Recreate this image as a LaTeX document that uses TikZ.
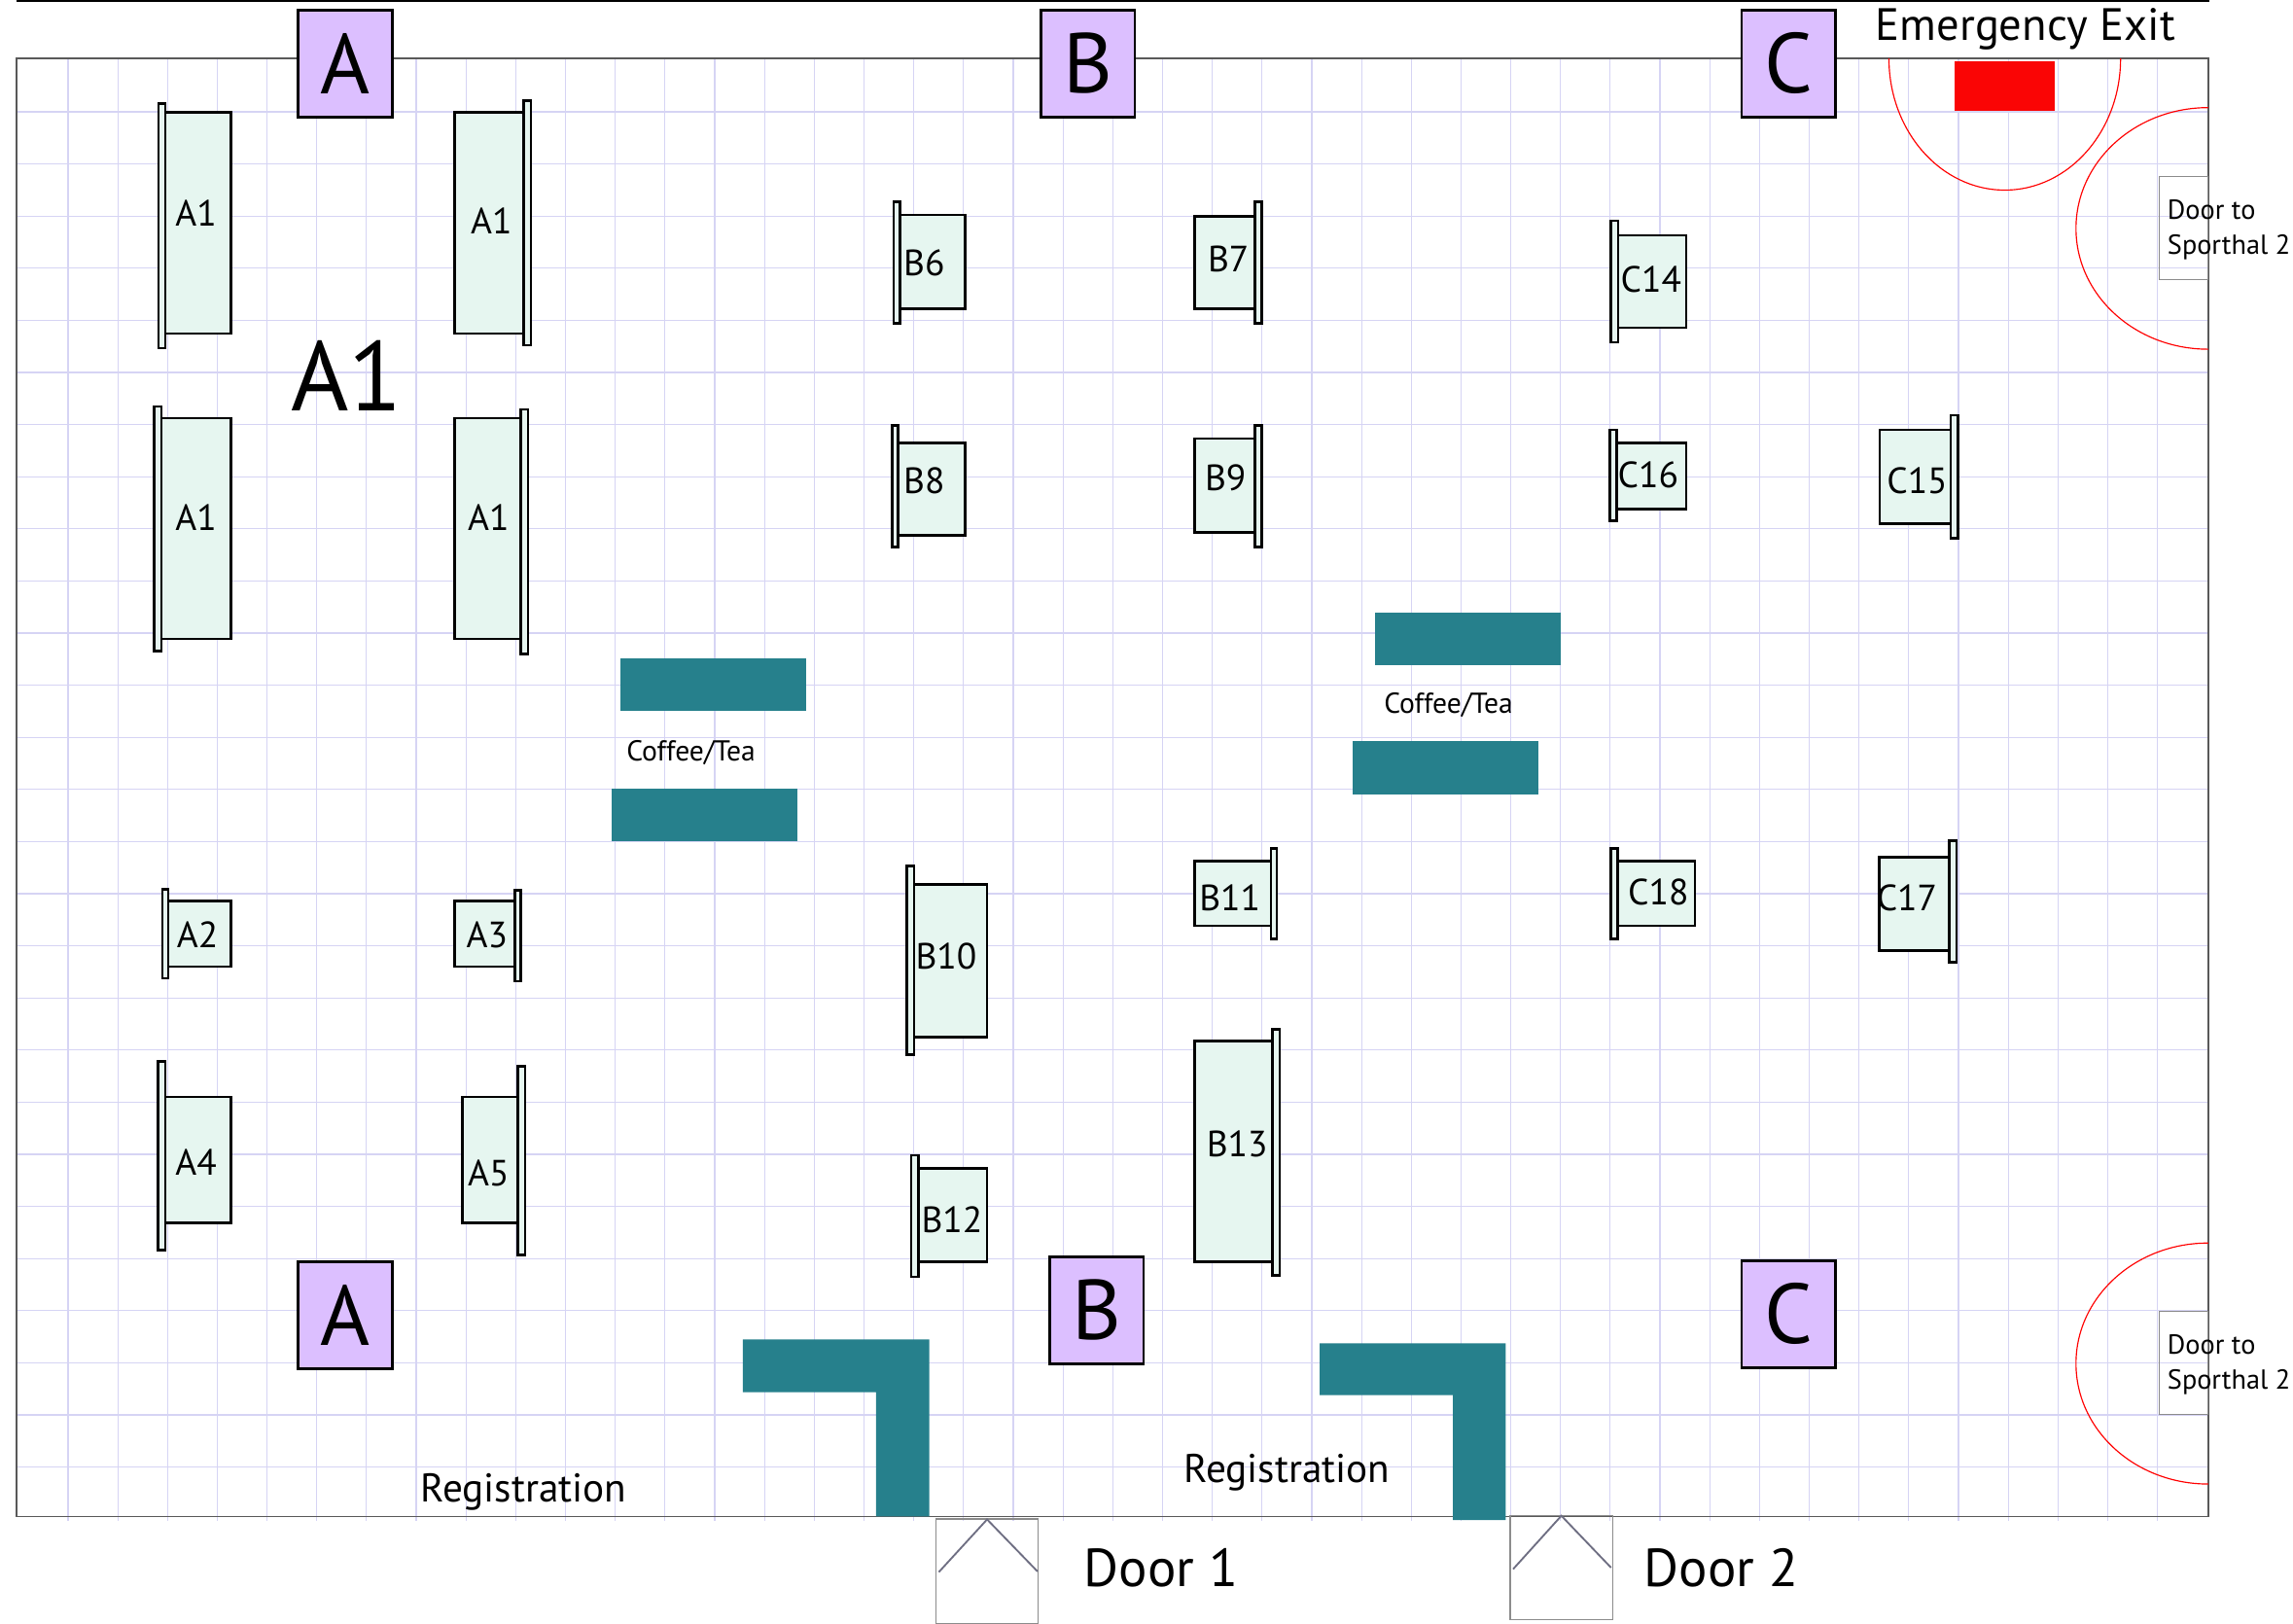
\documentclass[tikz,border=0pt]{standalone}
\usepackage{fontspec}
\setmainfont{PT Sans}
\usepackage{xcolor}
\usetikzlibrary{positioning}
\definecolor{gridline}{HTML}{D6D4F4}
\definecolor{boothgreen}{HTML}{E6F6F0}
\definecolor{signpurple}{HTML}{DCBFFF}
\definecolor{barteal}{HTML}{26808C}
\definecolor{doorgrey}{HTML}{6E6E82}
\definecolor{exitred}{HTML}{FA0505}
\tikzset{
  booth/.style={draw=black, fill=boothgreen, line width=0.5pt},
  signbox/.style={draw=black, fill=signpurple, line width=0.55pt, minimum width=0.64cm, minimum height=0.73cm, inner sep=0pt, font=\fontsize{16.5}{18}\selectfont},
  boothname/.style={inner sep=0pt, font=\fontsize{7.1}{9}\selectfont},
  bar/.style={fill=barteal},
  doorbox/.style={draw=black!45, line width=0.25pt},
  doorline/.style={draw=doorgrey, line width=0.35pt},
  zone/.style={draw=red, line width=0.22pt},
  smalltext/.style={inner sep=0pt, font=\fontsize{5.6}{6.8}\selectfont},
  doortext/.style={inner sep=0pt, font=\fontsize{5.35}{6.8}\selectfont},
}
\begin{document}
\begin{tikzpicture}[x=0.01cm, y=-0.01cm]
\useasboundingbox (0,0) rectangle (1568,1110);
% floor grid
\foreach \gx in {0,...,42} \draw[gridline, line width=0.22pt] ({46.5+34.02*\gx},40) -- ({46.5+34.02*\gx},1040);
\foreach \gy in {0,...,26} \draw[gridline, line width=0.22pt] (11.3,{76.5+35.64*\gy}) -- (1510,{76.5+35.64*\gy});
% walls
\draw[black, line width=0.3pt] (11.3,0.7) -- (1511,0.7);
\draw[black!65, line width=0.3pt] (11.3,40) rectangle (1510,1037);
% emergency exit
\fill[exitred] (1336.5,42) rectangle (1405,76);
\draw[zone] (1291.7,40) arc[start angle=180, end angle=360, x radius=79.2, y radius=-90];
\draw[zone] (1510,73.6) arc[start angle=90, end angle=270, x radius=90.4, y radius=-82.6];
\draw[zone] (1510,850) arc[start angle=90, end angle=270, x radius=90.4, y radius=-82.4];
\node (exit) [anchor=center, inner sep=0pt, font=\fontsize{8.8}{11}\selectfont] at (1385,20) {Emergency Exit};
% side doors
\draw[doorbox] (1476.5,120.6) rectangle (1510,191.3);
\draw[doorbox] (1476.5,896.5) rectangle (1510,967);
\node (sidedoor1) [doortext, anchor=west, align=left] at (1481.5,157) {Door to\\Sporthal 2};
\node (sidedoor2) [doortext, anchor=west, align=left] at (1481.5,933) {Door to\\Sporthal 2};
% sign boxes
\node (signa1) [signbox] at (236,43.5) {A};
\node (signb1) [signbox] at (744,43.5) {B};
\node (signc1) [signbox] at (1223,43.5) {C};
\node (signa2) [signbox] at (236,899.5) {A};
\node (signb2) [signbox] at (750,896) {B};
\node (signc2) [signbox] at (1223,898.5) {C};
\node (zonea) [inner sep=0pt, font=\fontsize{19.2}{24}\selectfont] at (237,257) {A1};
% block A
\draw[booth] (108.5,71) rectangle (113,238);
\draw[booth] (113,77) rectangle (158,228);
\node (a1a) [boothname] at (134,146) {A1};
\draw[booth] (358,69) rectangle (363,236);
\draw[booth] (311,77) rectangle (358,228);
\node (a1b) [boothname] at (336,151) {A1};
\draw[booth] (105.5,278) rectangle (110.5,445);
\draw[booth] (110.5,286) rectangle (158,437);
\node (a1c) [boothname] at (134,354) {A1};
\draw[booth] (356,280) rectangle (361,447);
\draw[booth] (311,286) rectangle (356,437);
\node (a1d) [boothname] at (334,354) {A1};
\draw[booth] (111,608) rectangle (115,669);
\draw[booth] (115,616) rectangle (158,661);
\node (a2) [boothname] at (135,639) {A2};
\draw[booth] (352,609) rectangle (356,671);
\draw[booth] (311,616) rectangle (352,661);
\node (a3) [boothname] at (333,639) {A3};
\draw[booth] (108,726) rectangle (113,855);
\draw[booth] (113,750) rectangle (158,836);
\node (a4) [boothname] at (134,795) {A4};
\draw[booth] (354,729) rectangle (359,858);
\draw[booth] (316,750) rectangle (354,836);
\node (a5) [boothname] at (334,802) {A5};
% block B
\draw[booth] (611,138) rectangle (615.5,221);
\draw[booth] (615.5,147) rectangle (660,211);
\node (b6) [boothname] at (632,180) {B6};
\draw[booth] (858,138) rectangle (863,221);
\draw[booth] (817,148) rectangle (858,211);
\node (b7) [boothname] at (840,177) {B7};
\draw[booth] (610,291) rectangle (614,374);
\draw[booth] (614,303) rectangle (660,366);
\node (b8) [boothname] at (632,329) {B8};
\draw[booth] (858,291) rectangle (863,374);
\draw[booth] (817,300) rectangle (858,364);
\node (b9) [boothname] at (838,327) {B9};
\draw[booth] (620,592) rectangle (625,721);
\draw[booth] (625,605) rectangle (675,709);
\node (b10) [boothname] at (647,654) {B10};
\draw[booth] (869,580) rectangle (873,642);
\draw[booth] (817,589) rectangle (869,633);
\node (b11) [boothname] at (841,614) {B11};
\draw[booth] (623,790) rectangle (628,873);
\draw[booth] (628,799) rectangle (675,863);
\node (b12) [boothname] at (651,834) {B12};
\draw[booth] (870,704) rectangle (875,872);
\draw[booth] (817,712) rectangle (870,863);
\node (b13) [boothname] at (846,782) {B13};
% block C
\draw[booth] (1101.5,151) rectangle (1106.5,234);
\draw[booth] (1106.5,161) rectangle (1153,224);
\node (c14) [boothname] at (1129,191) {C14};
\draw[booth] (1334,284) rectangle (1339,368);
\draw[booth] (1285.5,294) rectangle (1334,358);
\node (c15) [boothname] at (1311,329) {C15};
\draw[booth] (1101,294) rectangle (1105.5,356);
\draw[booth] (1105.5,303) rectangle (1153,348);
\node (c16) [boothname] at (1127,325) {C16};
\draw[booth] (1333,575) rectangle (1338,658);
\draw[booth] (1285,586) rectangle (1333,650);
\node (c17) [boothname] at (1304,614) {C17};
\draw[booth] (1101.5,580) rectangle (1106,642);
\draw[booth] (1106,589) rectangle (1159,633);
\node (c18) [boothname] at (1134,610) {C18};
% coffee bars
\fill[bar] (424,450) rectangle (551,486);
\fill[bar] (418,539) rectangle (545,575);
\fill[bar] (940,419) rectangle (1067,455);
\fill[bar] (925,507) rectangle (1052,543);
\node (coffee1) [smalltext] at (472.5,515) {Coffee/Tea};
\node (coffee2) [smalltext] at (990.5,482) {Coffee/Tea};
% registration desks
\fill[bar] (508,916) -- (635.5,916) -- (635.5,1037) -- (599,1037) -- (599,952) -- (508,952) -- cycle;
\fill[bar] (902.4,918.5) -- (1029.6,918.5) -- (1029.6,1039.5) -- (993.6,1039.5) -- (993.6,954) -- (902.4,954) -- cycle;
\node (reg1) [inner sep=0pt, font=\fontsize{7.8}{9}\selectfont] at (358,1020) {Registration};
\node (reg2) [inner sep=0pt, font=\fontsize{7.8}{9}\selectfont] at (880,1007) {Registration};
% main doors
\draw[doorbox] (640,1038.6) rectangle (709.7,1110);
\draw[doorbox] (1032.7,1036.4) rectangle (1102.8,1107.5);
\draw[doorline] (642,1075) -- (675,1039) -- (709.5,1074.6);
\draw[doorline] (1034.7,1073) -- (1067.7,1036.5) -- (1101.7,1072);
\node (door1) [inner sep=0pt, font=\fontsize{10.4}{12}\selectfont] at (794,1072) {Door 1};
\node (door2) [inner sep=0pt, font=\fontsize{10.4}{12}\selectfont] at (1177,1072) {Door 2};
\end{tikzpicture}
\end{document}
